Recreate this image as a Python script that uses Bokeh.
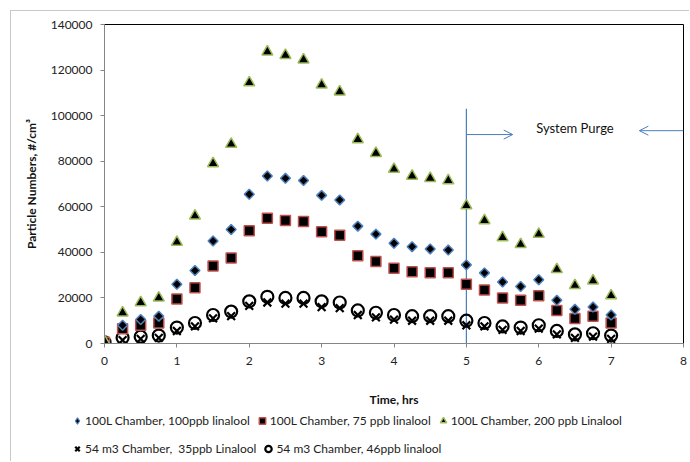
import math
from bokeh.plotting import figure
from bokeh.models import (Range1d, FixedTicker, NumeralTickFormatter, Legend, LegendItem,
                          Arrow, OpenHead)
from bokeh.core.properties import value
from bokeh.embed import file_html
from bokeh.resources import INLINE

time_hrs = [0, 0.25, 0.5, 0.75, 1, 1.25, 1.5, 1.75, 2, 2.25, 2.5, 2.75, 3, 3.25, 3.5,
            3.75, 4, 4.25, 4.5, 4.75, 5, 5.25, 5.5, 5.75, 6, 6.25, 6.5, 6.75, 7]

l100_100ppb = [500, 8000, 10500, 12000, 26000, 32000, 45000, 50000, 65500, 73500, 72500,
               71500, 65000, 63000, 51500, 48000, 44000, 42500, 41500, 41000, 34500, 31000,
               27000, 25000, 28000, 19000, 15000, 16000, 12500]
l100_75ppb = [500, 6500, 8000, 9000, 19500, 24500, 34000, 37500, 49500, 55000, 54000,
              53500, 49000, 47500, 38500, 36000, 33000, 31500, 31000, 31000, 26000, 23500,
              20000, 19000, 21000, 14500, 11000, 12000, 9000]
l100_200ppb = [1000, 13500, 18000, 20000, 44500, 56000, 79000, 87500, 114500, 128000, 126500,
               124500, 113500, 110500, 89500, 83500, 76500, 73500, 72500, 71500, 60500, 54000,
               46500, 43500, 48000, 32500, 25500, 27500, 21000]
m54_35ppb = [300, 1500, 2000, 2500, 5500, 7500, 11000, 12000, 16500, 18000, 17500,
             17500, 16000, 15500, 12500, 11500, 10500, 10000, 10000, 10000, 8000, 7500,
             6000, 5500, 6500, 4000, 2500, 3000, 2000]
m54_46ppb = [500, 2500, 3000, 3500, 7000, 9000, 12500, 14000, 18500, 20500, 20000,
             20000, 18500, 18000, 14500, 13500, 12500, 12000, 12000, 12000, 10000, 9000,
             7500, 7000, 8000, 5500, 4000, 4500, 3500]

series_labels = ["100L Chamber, 100ppb linalool", "100L Chamber, 75 ppb linalool",
                 "100L Chamber, 200 ppb Linalool", "54 m3 Chamber,  35ppb Linalool",
                 "54 m3 Chamber, 46ppb linalool"]

x_ticks = [0, 1, 2, 3, 4, 5, 6, 7, 8]
y_ticks = [0, 20000, 40000, 60000, 80000, 100000, 120000, 140000]

purge_time = 5
purge_line_top = 103000
purge_label = "System Purge"
purge_label_x = 6.5
purge_label_y = 94500
arrow_right = (5, 5.64, 91700)
arrow_left = (8, 7.39, 93400)

FONT = "Lato"
BLUE = "#4a7ebb"
BORDER = "1px solid #c8c8c8"

p = figure(width=679, height=399, output_backend="svg", toolbar_location=None,
           x_range=Range1d(0, 8), y_range=Range1d(0, 140000),
           min_border_left=93, min_border_top=13, min_border_right=7, min_border_bottom=67,
           margin=(10, 0, 0, 10),
           styles={"border-top": BORDER, "border-left": BORDER})
p.background_fill_color = "white"
p.border_fill_color = "white"
p.outline_line_color = "#000000"
p.outline_line_width = 1
p.xgrid.visible = False
p.ygrid.visible = False

for ax in (p.xaxis[0], p.yaxis[0]):
    ax.axis_line_color = "#868686"
    ax.major_tick_line_color = "#868686"
    ax.major_tick_out = 4
    ax.major_tick_in = 0
    ax.minor_tick_line_color = None
    ax.major_label_text_font = FONT
    ax.major_label_text_font_size = "12px"
    ax.major_label_text_color = "#222222"
    ax.axis_label_text_font = FONT
    ax.axis_label_text_font_size = "12px"
    ax.axis_label_text_font_style = "bold"
    ax.axis_label_text_color = "#111111"

p.xaxis.ticker = FixedTicker(ticks=x_ticks)
p.yaxis.ticker = FixedTicker(ticks=y_ticks)
p.yaxis.formatter = NumeralTickFormatter(format="0")
p.xaxis.axis_label = "Time, hrs"
p.yaxis.axis_label = "Particle Numbers, #/cm³"
p.xaxis.major_label_standoff = 9
p.yaxis.major_label_standoff = 8
p.xaxis.axis_label_standoff = 24
p.yaxis.axis_label_standoff = 9

# purge line and annotations
p.segment(x0=[purge_time], y0=[0], x1=[purge_time], y1=[purge_line_top],
          line_color=BLUE, line_width=1.2)
p.add_layout(Arrow(end=OpenHead(size=9, line_color=BLUE, line_width=1),
                   x_start=arrow_right[0], x_end=arrow_right[1],
                   y_start=arrow_right[2], y_end=arrow_right[2],
                   line_color=BLUE, line_width=1))
p.add_layout(Arrow(end=OpenHead(size=9, line_color=BLUE, line_width=1),
                   x_start=arrow_left[0], x_end=arrow_left[1],
                   y_start=arrow_left[2], y_end=arrow_left[2],
                   line_color=BLUE, line_width=1))
p.text(x=[purge_label_x], y=[purge_label_y], text=[purge_label],
       text_font=value(FONT), text_font_size="13px", text_align="center",
       text_baseline="middle", text_color="#111111")

STYLES = [
    dict(marker="x", size=11, line_color="black", line_width=2.2),
    dict(marker="circle", size=12, fill_color=None, line_color="black", line_width=2.2),
    dict(marker="square", size=10, fill_color="black", line_color="#c0504d", line_width=1.5),
    dict(marker="square", angle=math.pi / 4, size=7, fill_color="black",
         line_color="#4f81bd", line_width=1.5),
    dict(marker="triangle", size=11, fill_color="black", line_color="#9bbb59", line_width=1.5),
]
series = [m54_35ppb, m54_46ppb, l100_75ppb, l100_100ppb, l100_200ppb]
for ys, st in zip(series, STYLES):
    p.scatter(time_hrs, ys, **st)

# legend strip below the chart (same series, ranges chosen so no marks show)
LEGEND_STYLES = [
    dict(marker="x", size=11, line_color="black", line_width=2.2),
    dict(marker="circle", size=12, fill_color=None, line_color="black", line_width=2.2),
    dict(marker="square", size=10, fill_color="black", line_color="#c0504d", line_width=1.5),
    dict(marker="diamond", size=10, fill_color="black", line_color="#4f81bd", line_width=1.2),
    dict(marker="triangle", size=11, fill_color="black", line_color="#9bbb59", line_width=1.5),
]
p2 = figure(width=679, height=52, output_backend="svg", toolbar_location=None,
            x_range=Range1d(100, 101), y_range=Range1d(0, 1),
            x_axis_type=None, y_axis_type=None,
            min_border=0, min_border_left=0, min_border_right=0,
            min_border_top=0, min_border_bottom=0,
            margin=(0, 0, 0, 10), styles={"border-left": BORDER})
p2.outline_line_color = None
p2.xgrid.visible = False
p2.ygrid.visible = False
lr = [p2.scatter(time_hrs, ys, **st) for ys, st in zip(series, LEGEND_STYLES)]
r_x, r_o, r_sq, r_di, r_tr = lr

def make_legend(items, loc):
    return Legend(items=items, location=loc, orientation="horizontal",
                  border_line_color=None, background_fill_alpha=0, padding=0, margin=0,
                  spacing=4, glyph_width=16, glyph_height=17, label_standoff=0,
                  label_height=17, label_text_font=FONT, label_text_font_size="12px",
                  label_text_color="#222222")

lg1 = make_legend([LegendItem(label=series_labels[0], renderers=[r_di]),
                   LegendItem(label=series_labels[1], renderers=[r_sq]),
                   LegendItem(label=series_labels[2], renderers=[r_tr])], (58, 32))
lg2 = make_legend([LegendItem(label=series_labels[3], renderers=[r_x]),
                   LegendItem(label=series_labels[4], renderers=[r_o])], (58, 4))
p2.add_layout(lg1, "center")
p2.add_layout(lg2, "center")

open("out.html", "w").write(file_html([p, p2], INLINE))
